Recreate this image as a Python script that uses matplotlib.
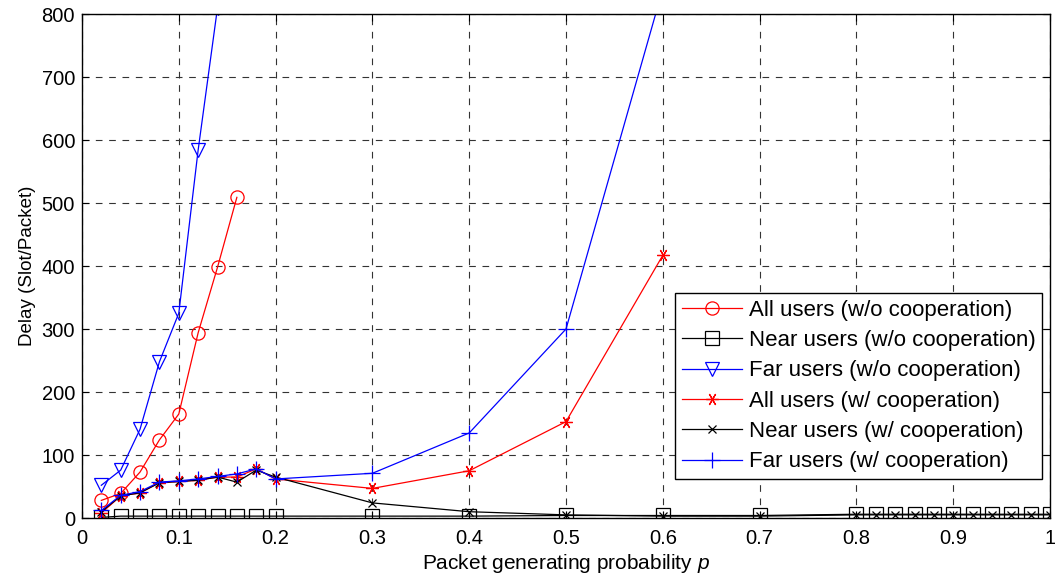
import matplotlib
matplotlib.use("Agg")
import matplotlib.pyplot as plt
import numpy as np

plt.rcParams['font.family'] = ['Liberation Sans', 'DejaVu Sans']
plt.rcParams['mathtext.fontset'] = 'custom'
plt.rcParams['mathtext.it'] = 'Liberation Sans:italic'
plt.rcParams['mathtext.rm'] = 'Liberation Sans'

# ---- data ----
p_low = [0.02, 0.04, 0.06, 0.08, 0.10, 0.12, 0.14, 0.16]
all_wo = [28, 39, 73, 124, 165, 294, 398, 509]

p_far_wo = [0.02, 0.04, 0.06, 0.08, 0.10, 0.12, 0.14]
far_wo = [52, 76, 141, 248, 325, 584, 810]

p_full = [0.02, 0.04, 0.06, 0.08, 0.10, 0.12, 0.14, 0.16, 0.18, 0.20,
          0.30, 0.40, 0.50, 0.60, 0.70,
          0.80, 0.82, 0.84, 0.86, 0.88, 0.90, 0.92, 0.94, 0.96, 0.98, 1.00]
near_wo = [1, 3, 3, 3, 3, 3, 3, 3, 3, 3,
           3, 3, 4, 4, 4,
           6, 6, 6, 6, 6, 6, 6, 6, 6, 6, 6]
near_w = [10, 35, 40, 56, 58, 60, 65, 57, 76, 65,
          24, 10, 5, 3, 3,
          5, 5, 5, 5, 5, 5, 5, 5, 5, 5, 5]

p_coop = [0.02, 0.04, 0.06, 0.08, 0.10, 0.12, 0.14, 0.16, 0.18, 0.20,
          0.30, 0.40, 0.50, 0.60]
all_w = [8, 35, 40, 56, 58, 60, 65, 65, 78, 62, 47, 75, 153, 417]
far_w = [12, 36, 42, 57, 59, 62, 66, 70, 78, 62, 71, 135, 300, 840]

labels = ['All users (w/o cooperation)', 'Near users (w/o cooperation)',
          'Far users (w/o cooperation)', 'All users (w/ cooperation)',
          'Near users (w/ cooperation)', 'Far users (w/ cooperation)']

xticks = [0, 0.1, 0.2, 0.3, 0.4, 0.5, 0.6, 0.7, 0.8, 0.9, 1]
xticklabels = ['0', '0.1', '0.2', '0.3', '0.4', '0.5', '0.6', '0.7', '0.8', '0.9', '1']
yticks = [0, 100, 200, 300, 400, 500, 600, 700, 800]

# ---- figure ----
fig = plt.figure(figsize=(10.55, 5.81), dpi=100)
ax = fig.add_axes([0.0777, 0.1084, 0.9176, 0.8675])

lw = 0.9
ax.plot(p_low, all_wo, color='red', lw=lw, marker='o', ms=9.5, mfc='none', mec='red', mew=0.9, label=labels[0])
ax.plot(p_full, near_wo, color='black', lw=lw, marker='s', ms=9.5, mfc='none', mec='black', mew=0.9, label=labels[1])
ax.plot(p_far_wo, far_wo, color='blue', lw=lw, marker='v', ms=10.5, mfc='none', mec='blue', mew=0.9, label=labels[2])
ax.plot(p_coop, all_w, color='red', lw=lw, marker=(6, 2, 90), ms=9, mec='red', mew=0.9, label=labels[3])
ax.plot(p_full, near_w, color='black', lw=lw, marker='x', ms=6, mec='black', mew=0.9, label=labels[4])
ax.plot(p_coop, far_w, color='blue', lw=lw, marker='+', ms=11, mec='blue', mew=0.9, label=labels[5])

ax.set_xlim(0, 1)
ax.set_ylim(0, 800)
ax.set_xticks(xticks)
ax.set_xticklabels(xticklabels)
ax.set_yticks(yticks)
ax.tick_params(direction='in', top=True, right=True, labelsize=14.5, length=5, width=0.8)
ax.tick_params(axis='x', pad=8)
ax.tick_params(axis='y', pad=5)
ax.grid(True, color='#333333', linestyle=(0, (6, 6)), linewidth=0.8)
for s in ax.spines.values():
    s.set_linewidth(1.0)

ax.set_xlabel('Packet generating probability $p$', fontsize=15, labelpad=3)
ax.set_ylabel('Delay (Slot/Packet)', fontsize=13.5, labelpad=4)

leg = ax.legend(loc='upper right', bbox_to_anchor=(0.9917, 0.4464), borderaxespad=0,
                fontsize=16, fancybox=False, framealpha=1, edgecolor='black',
                handlelength=2.7, handletextpad=0.3, labelspacing=0.42,
                borderpad=0.3)
leg.get_frame().set_linewidth(1.0)

fig.savefig('out.png', dpi=100)
